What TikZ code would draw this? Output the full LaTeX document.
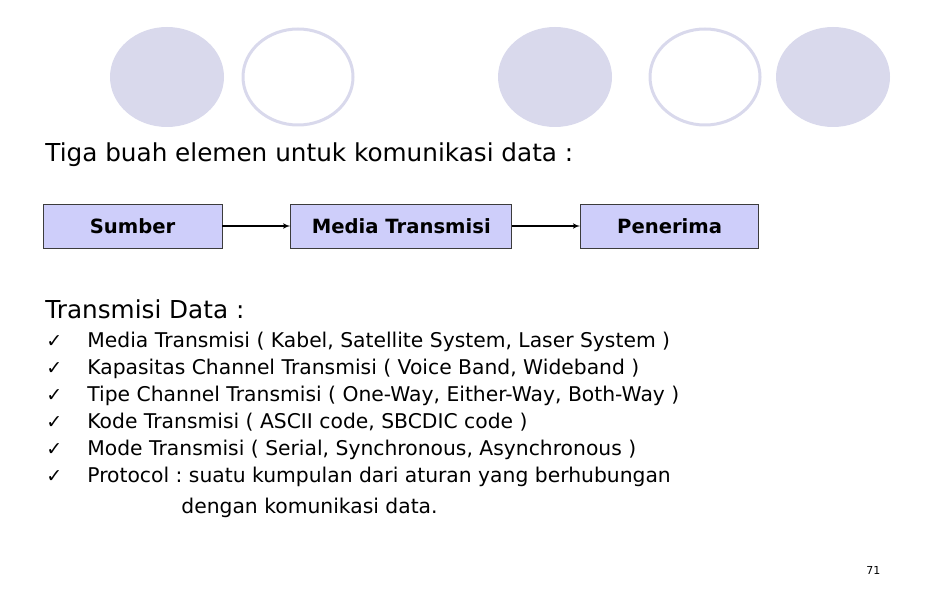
\documentclass[tikz,border=0pt]{standalone}
\usepackage{fontspec}
\setmainfont{DejaVu Sans}
\newfontfamily\symfont{DejaVu Sans}
\usetikzlibrary{arrows}
\usetikzlibrary{positioning}
\frenchspacing

\definecolor{lav}{RGB}{217,217,236}
\definecolor{boxfill}{RGB}{206,206,250}
\definecolor{boxline}{RGB}{60,60,60}

\tikzset{
  blok/.style={draw=boxline,fill=boxfill,line width=0.8pt,minimum height=44pt,
    inner sep=0pt,font=\bfseries\fontsize{19.6}{22}\selectfont},
  teks/.style={anchor=base west,inner sep=0pt,font=\fontsize{24.7}{28}\selectfont},
  isi/.style={anchor=base west,inner sep=0pt,font=\fontsize{20.3}{24}\selectfont},
  cek/.style={anchor=base west,inner sep=0pt,font=\symfont\fontsize{19}{20}\selectfont}
}

\begin{document}
\begin{tikzpicture}[x=1pt,y=-1pt,node distance=68pt,>=latex',thick]
\path[use as bounding box] (0,0) rectangle (936,612);
% bulatan di atas
\fill[lav] (167,77) ellipse (57 and 50);
\draw[lav,line width=3pt] (298,77) ellipse (55 and 48);
\fill[lav] (555,77) ellipse (57 and 50);
\draw[lav,line width=3pt] (705,77) ellipse (55 and 48);
\fill[lav] (833,77) ellipse (57 and 50);
% judul
\path node[teks] (judul) at (45,162) {Tiga buah elemen untuk komunikasi data :};
% blok
\path node[blok,minimum width=179pt] (s) at (132.5,226) {Sumber};
\path node[blok,minimum width=221pt,right =of s] (m) {Media Transmisi};
\path node[blok,minimum width=178pt,right =of m] (p) {Penerima};
\path[->,line width=1.5pt] (s) edge (m);
\path[->,line width=1.5pt] (m) edge (p);
% daftar
\path node[teks] (td) at (45,318) {Transmisi Data :};
\foreach \y in {347,374,401,428,455,482}
  \path node[cek] at (46,\y) {✓};
\path node[isi] (l1) at (87,347) {Media Transmisi ( Kabel, Satellite System, Laser System )};
\path node[isi] (l2) at (87,374) {Kapasitas Channel Transmisi ( Voice Band, Wideband )};
\path node[isi] (l3) at (87,401) {Tipe Channel Transmisi ( One-Way, Either-Way, Both-Way )};
\path node[isi] (l4) at (87,428) {Kode Transmisi ( ASCII code, SBCDIC code )};
\path node[isi] (l5) at (87,455) {Mode Transmisi ( Serial, Synchronous, Asynchronous )};
\path node[isi] (l6) at (87,482) {Protocol : suatu kumpulan dari aturan yang berhubungan};
\path node[isi] (l7) at (181,513) {dengan komunikasi data.};
% nomor halaman
\path node[anchor=base west,inner sep=0pt,font=\fontsize{11}{13}\selectfont] (hal) at (866,574) {71};
\end{tikzpicture}
\end{document}
